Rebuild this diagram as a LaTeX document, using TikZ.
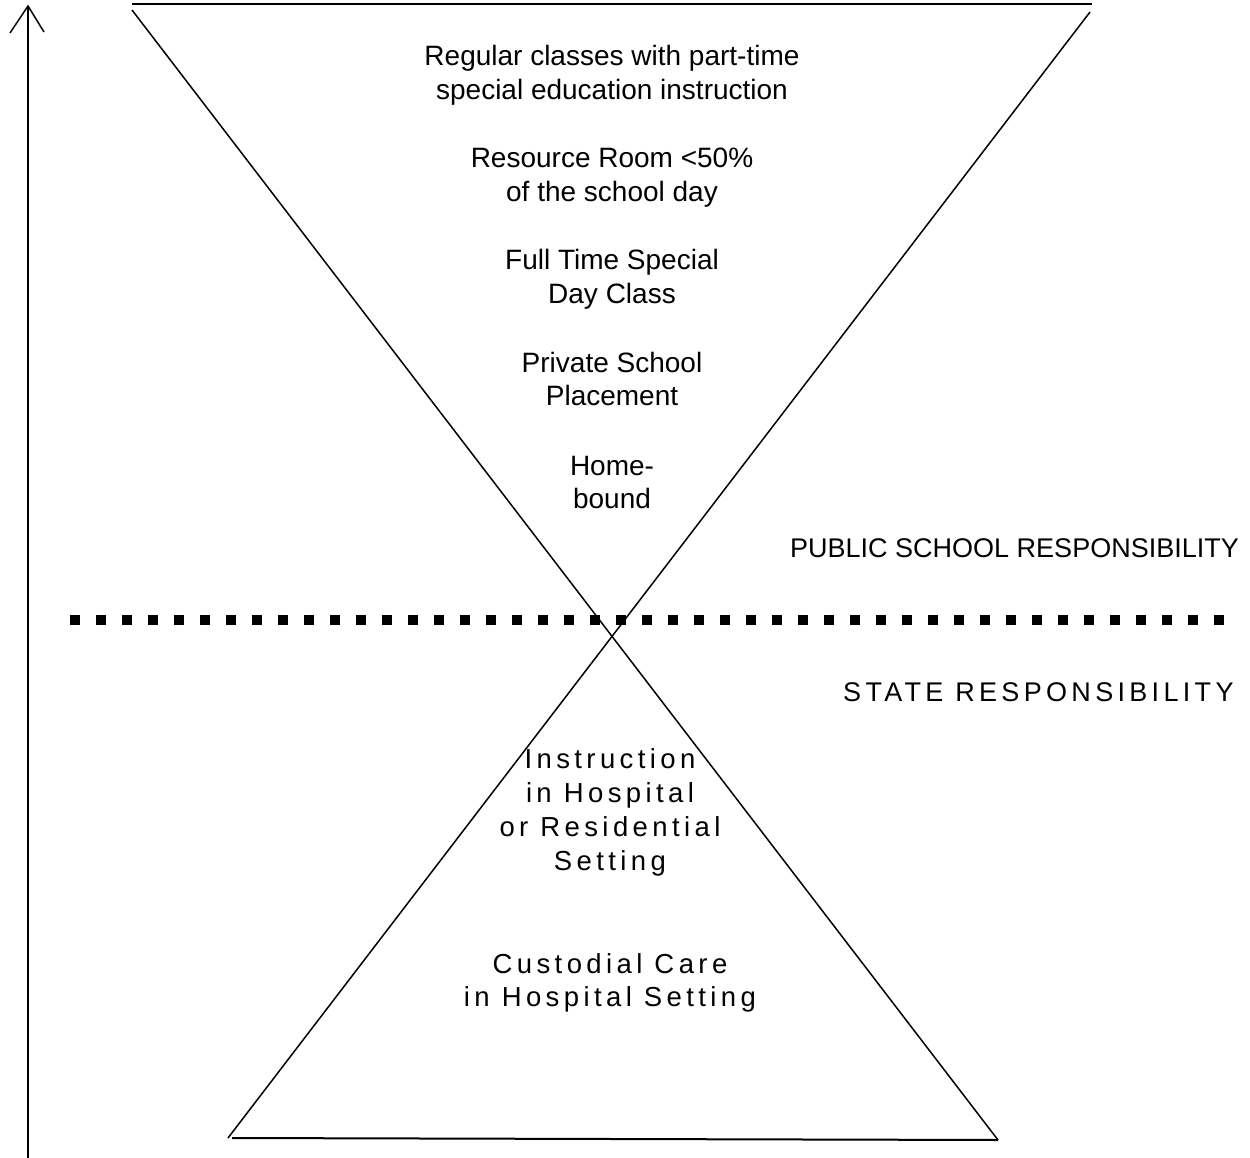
\documentclass[tikz,border=0pt]{standalone}
\usepackage{fontspec}
\setmainfont{Liberation Sans}
\newfontfamily\spaced[LetterSpace=16]{Liberation Sans}
\begin{document}
\begin{tikzpicture}[x=1pt,y=-1pt,
  txt/.style={inner sep=0pt,anchor=base,font=\fontsize{28}{33}\selectfont},
  stxt/.style={inner sep=0pt,anchor=base,font=\fontsize{27.5}{33}\selectfont\spaced},
  thin line/.style={line width=1.5pt},
  thick line/.style={line width=2pt}]
\useasboundingbox (0,0) rectangle (1250,1158);
% triangle corners
\coordinate (tl) at (132,4);
\coordinate (tr) at (1092,4);
\coordinate (dtl) at (132,10);
\coordinate (dtr) at (1090,12);
\coordinate (bl) at (228,1138);
\coordinate (br) at (998,1140);
\coordinate (bll) at (232,1138);
\draw[thick line] (tl) -- (tr);
\draw[thin line] (dtl) -- (br);
\draw[thin line] (dtr) -- (bl);
\draw[thick line] (bll) -- (br);
% arrow
\coordinate (abot) at (28,1158);
\coordinate (atop) at (28,6);
\coordinate (al) at (10,33);
\coordinate (ar) at (44,32);
\draw[thick line] (abot) -- (atop);
\draw[thin line] (al) -- (atop) -- (ar);
% dotted divider
\coordinate (ds) at (70,620);
\coordinate (de) at (1224,620);
\draw[line width=10pt,dash pattern=on 10pt off 16pt] (ds) -- (de);
% upper texts
\node[txt] (r1) at (612,66) {Regular classes with part-time};
\node[txt] (r2) at (612,99.5) {special education instruction};
\node[txt] (s1) at (612,168) {Resource Room <50\%};
\node[txt] (s2) at (612,201.5) {of the school day};
\node[txt] (f1) at (612,270) {Full Time Special};
\node[txt] (f2) at (612,303.5) {Day Class};
\node[txt] (p1) at (612,372) {Private School};
\node[txt] (p2) at (612,405.5) {Placement};
\node[txt] (h1) at (612,475) {Home-};
\node[txt] (h2) at (612,508.5) {bound};
\node[txt,anchor=base west,font=\fontsize{27}{33}\selectfont] (pub) at (790,557) {PUBLIC SCHOOL RESPONSIBILITY};
\node[stxt,anchor=base west,font=\fontsize{27}{33}\selectfont\spaced] (state) at (843,701) {STATE RESPONSIBILITY};
% lower texts
\node[stxt] (i1) at (610,768) {Instruction};
\node[stxt] (i2) at (610,802) {in Hospital};
\node[stxt] (i3) at (610,836) {or Residential};
\node[stxt] (i4) at (610,870) {Setting};
\node[stxt] (c1) at (610,973) {Custodial Care};
\node[stxt] (c2) at (610,1006) {in Hospital Setting};
\end{tikzpicture}
\end{document}
